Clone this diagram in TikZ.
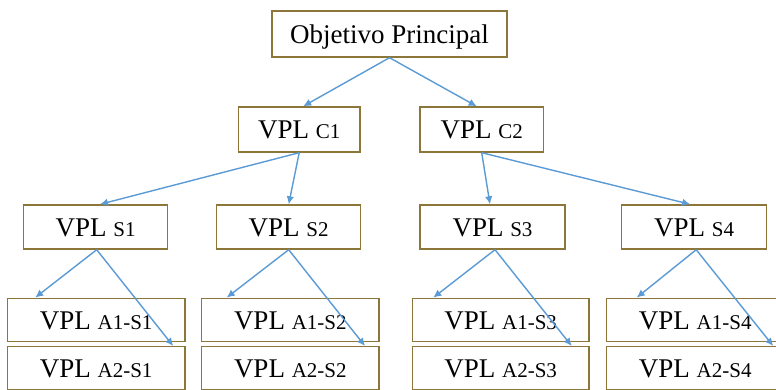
\documentclass[tikz,border=0pt]{standalone}
\usepackage{fontspec}
\setmainfont{Liberation Serif}
\usetikzlibrary{arrows.meta}
\definecolor{boxline}{RGB}{140,118,58}
\definecolor{arrblue}{RGB}{91,155,213}
\newcommand{\bigtxt}{\fontsize{27}{30}\selectfont}
\newcommand{\smltxt}{\fontsize{21}{23}\selectfont}
\newcommand{\vpl}[1]{{\bigtxt VPL \smltxt #1}}
\begin{document}
\begin{tikzpicture}[x=1pt,y=-1pt,
  box/.style={draw=boxline, line width=1.4pt, fill=white, inner sep=0pt,
    text height=18pt, text depth=0pt, minimum height=45pt},
  arr/.style={draw=arrblue, line width=1.4pt, -{Latex[length=8pt,width=7.5pt]}}]
\useasboundingbox (0,0) rectangle (776,389);
\fill[white] (0,0) rectangle (776,389);
% nodes
\node[box, minimum width=235pt, minimum height=46pt] (top) at (389.5,34) {\bigtxt Objetivo Principal};
\node[box, minimum width=121.5pt] (c1) at (299.2,129.5) {\vpl{C1}};
\node[box, minimum width=123.5pt] (c2) at (481.7,129.5) {\vpl{C2}};
\node[box, minimum width=144pt, minimum height=44pt] (s1) at (95.7,227) {\vpl{S1}};
\node[box, minimum width=144pt, minimum height=44pt] (s2) at (288.7,227) {\vpl{S2}};
\node[box, minimum width=145pt, minimum height=44pt] (s3) at (492.5,227) {\vpl{S3}};
\node[box, minimum width=145pt, minimum height=44pt] (s4) at (694.2,227) {\vpl{S4}};
\node[box, minimum width=177.7pt, minimum height=43.4pt] (a11) at (96.2,320) {\vpl{A1-S1}};
\node[box, minimum width=177.7pt, minimum height=43.4pt] (a21) at (96.2,368.4) {\vpl{A2-S1}};
\node[box, minimum width=177.3pt, minimum height=43.4pt] (a12) at (290.3,320) {\vpl{A1-S2}};
\node[box, minimum width=177.3pt, minimum height=43.4pt] (a22) at (290.3,368.4) {\vpl{A2-S2}};
\node[box, minimum width=176.7pt, minimum height=43.4pt] (a13) at (500.7,320) {\vpl{A1-S3}};
\node[box, minimum width=176.7pt, minimum height=43.4pt] (a23) at (500.7,368.4) {\vpl{A2-S3}};
\node[box, minimum width=177pt, minimum height=43.4pt] (a14) at (695.2,320) {\vpl{A1-S4}};
\node[box, minimum width=177pt, minimum height=43.4pt] (a24) at (695.2,368.4) {\vpl{A2-S4}};
% connectors
\draw[arr] (top.south) -- ([xshift=4pt]c1.north);
\draw[arr] (top.south) -- ([xshift=-5pt]c2.north);
\draw[arr] (c1.south) -- ([xshift=4.3pt]s1.north);
\draw[arr] (c1.south) -- (s2.north);
\draw[arr] (c2.south) -- ([xshift=-2.5pt]s3.north);
\draw[arr] (c2.south) -- ([xshift=-4pt]s4.north);
\draw[arr] ([xshift=1pt]s1.south) -- ([xshift=-61pt]a11.north);
\draw[arr] ([xshift=1pt]s1.south) -- ([xshift=77pt]a21.north);
\draw[arr] (s2.south) -- ([xshift=-63.6pt]a12.north);
\draw[arr] (s2.south) -- ([xshift=74.7pt]a22.north);
\draw[arr] ([xshift=2.5pt]s3.south) -- ([xshift=-67.4pt]a13.north);
\draw[arr] ([xshift=2.5pt]s3.south) -- ([xshift=71pt]a23.north);
\draw[arr] ([xshift=2pt]s4.south) -- ([xshift=-58.5pt]a14.north);
\draw[arr] ([xshift=2pt]s4.south) -- ([xshift=78pt]a24.north);
\end{tikzpicture}
\end{document}
